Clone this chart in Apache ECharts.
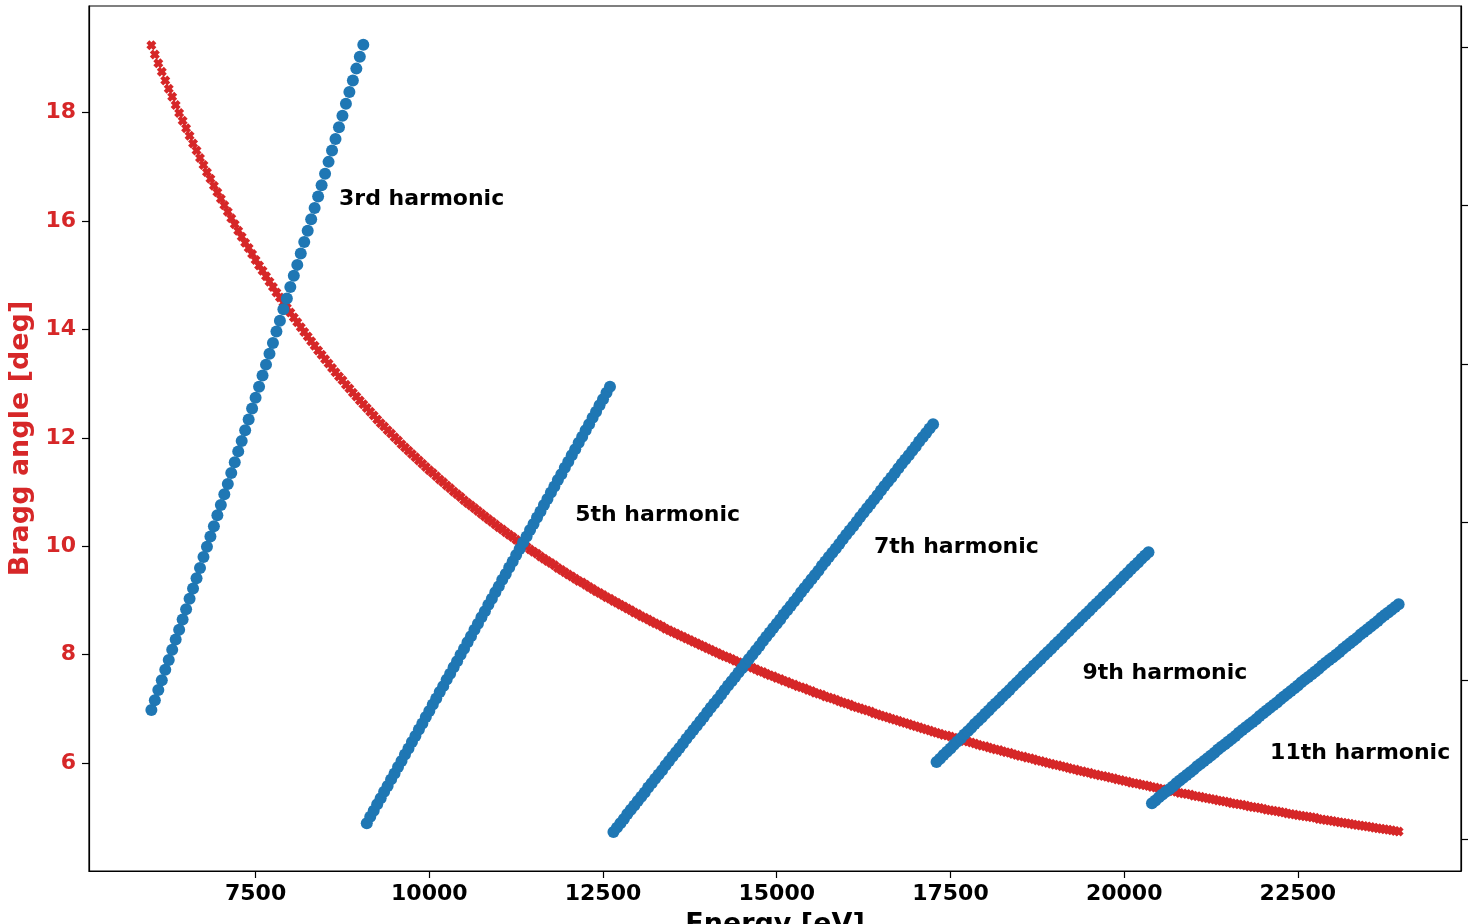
<!DOCTYPE html>
<html>
<head>
<meta charset="utf-8">
<script src="https://cdn.jsdelivr.net/npm/echarts@6/dist/echarts.min.js"></script>
<style>
  html, body { margin: 0; padding: 0; background: #ffffff; }
  #chart { width: 1475px; height: 924px; }
</style>
</head>
<body>
<div id="chart"></div>
<script>
// Photon energy grid [eV], shared by the Bragg curve and the harmonic series
const energy = [
  6000,6050,6100,6150,6200,6250,6300,6350,6400,6450,6500,6550,6600,6650,6700,6750,6800,6850,6900,6950,
  7000,7050,7100,7150,7200,7250,7300,7350,7400,7450,7500,7550,7600,7650,7700,7750,7800,7850,7900,7950,
  8000,8050,8100,8150,8200,8250,8300,8350,8400,8450,8500,8550,8600,8650,8700,8750,8800,8850,8900,8950,
  9000,9050,9100,9150,9200,9250,9300,9350,9400,9450,9500,9550,9600,9650,9700,9750,9800,9850,9900,9950,
  10000,10050,10100,10150,10200,10250,10300,10350,10400,10450,10500,10550,10600,10650,10700,10750,10800,10850,10900,10950,
  11000,11050,11100,11150,11200,11250,11300,11350,11400,11450,11500,11550,11600,11650,11700,11750,11800,11850,11900,11950,
  12000,12050,12100,12150,12200,12250,12300,12350,12400,12450,12500,12550,12600,12650,12700,12750,12800,12850,12900,12950,
  13000,13050,13100,13150,13200,13250,13300,13350,13400,13450,13500,13550,13600,13650,13700,13750,13800,13850,13900,13950,
  14000,14050,14100,14150,14200,14250,14300,14350,14400,14450,14500,14550,14600,14650,14700,14750,14800,14850,14900,14950,
  15000,15050,15100,15150,15200,15250,15300,15350,15400,15450,15500,15550,15600,15650,15700,15750,15800,15850,15900,15950,
  16000,16050,16100,16150,16200,16250,16300,16350,16400,16450,16500,16550,16600,16650,16700,16750,16800,16850,16900,16950,
  17000,17050,17100,17150,17200,17250,17300,17350,17400,17450,17500,17550,17600,17650,17700,17750,17800,17850,17900,17950,
  18000,18050,18100,18150,18200,18250,18300,18350,18400,18450,18500,18550,18600,18650,18700,18750,18800,18850,18900,18950,
  19000,19050,19100,19150,19200,19250,19300,19350,19400,19450,19500,19550,19600,19650,19700,19750,19800,19850,19900,19950,
  20000,20050,20100,20150,20200,20250,20300,20350,20400,20450,20500,20550,20600,20650,20700,20750,20800,20850,20900,20950,
  21000,21050,21100,21150,21200,21250,21300,21350,21400,21450,21500,21550,21600,21650,21700,21750,21800,21850,21900,21950,
  22000,22050,22100,22150,22200,22250,22300,22350,22400,22450,22500,22550,22600,22650,22700,22750,22800,22850,22900,22950,
  23000,23050,23100,23150,23200,23250,23300,23350,23400,23450,23500,23550,23600,23650,23700,23750,23800,23850,23900,23950
];

// Si(111) Bragg angle [deg] at each energy
const braggAngle = [
  19.24,19.07,18.91,18.75,18.59,18.44,18.29,18.14,17.99,17.85,17.71,17.57,17.43,17.30,17.16,17.03,16.90,16.78,16.65,16.53,
  16.41,16.29,16.17,16.05,15.94,15.82,15.71,15.60,15.50,15.39,15.28,15.18,15.08,14.98,14.88,14.78,14.68,14.59,14.49,14.40,
  14.31,14.22,14.13,14.04,13.95,13.87,13.78,13.70,13.61,13.53,13.45,13.37,13.29,13.21,13.13,13.06,12.98,12.91,12.83,12.76,
  12.69,12.62,12.55,12.48,12.41,12.34,12.27,12.21,12.14,12.08,12.01,11.95,11.88,11.82,11.76,11.70,11.64,11.58,11.52,11.46,
  11.40,11.35,11.29,11.23,11.18,11.12,11.07,11.01,10.96,10.91,10.85,10.80,10.75,10.70,10.65,10.60,10.55,10.50,10.45,10.40,
  10.35,10.31,10.26,10.21,10.17,10.12,10.08,10.03,9.99,9.94,9.90,9.86,9.81,9.77,9.73,9.69,9.65,9.60,9.56,9.52,
  9.48,9.44,9.40,9.36,9.33,9.29,9.25,9.21,9.17,9.14,9.10,9.06,9.03,8.99,8.96,8.92,8.89,8.85,8.82,8.78,
  8.75,8.71,8.68,8.65,8.61,8.58,8.55,8.52,8.48,8.45,8.42,8.39,8.36,8.33,8.30,8.27,8.24,8.21,8.18,8.15,
  8.12,8.09,8.06,8.03,8.00,7.97,7.95,7.92,7.89,7.86,7.84,7.81,7.78,7.76,7.73,7.70,7.68,7.65,7.62,7.60,
  7.57,7.55,7.52,7.50,7.47,7.45,7.42,7.40,7.38,7.35,7.33,7.30,7.28,7.26,7.23,7.21,7.19,7.17,7.14,7.12,
  7.10,7.08,7.05,7.03,7.01,6.99,6.97,6.95,6.92,6.90,6.88,6.86,6.84,6.82,6.80,6.78,6.76,6.74,6.72,6.70,
  6.68,6.66,6.64,6.62,6.60,6.58,6.56,6.54,6.52,6.51,6.49,6.47,6.45,6.43,6.41,6.40,6.38,6.36,6.34,6.32,
  6.31,6.29,6.27,6.25,6.24,6.22,6.20,6.19,6.17,6.15,6.13,6.12,6.10,6.09,6.07,6.05,6.04,6.02,6.00,5.99,
  5.97,5.96,5.94,5.93,5.91,5.89,5.88,5.86,5.85,5.83,5.82,5.80,5.79,5.77,5.76,5.75,5.73,5.72,5.70,5.69,
  5.67,5.66,5.64,5.63,5.62,5.60,5.59,5.58,5.56,5.55,5.53,5.52,5.51,5.49,5.48,5.47,5.45,5.44,5.43,5.42,
  5.40,5.39,5.38,5.36,5.35,5.34,5.33,5.31,5.30,5.29,5.28,5.26,5.25,5.24,5.23,5.22,5.20,5.19,5.18,5.17,
  5.16,5.14,5.13,5.12,5.11,5.10,5.09,5.07,5.06,5.05,5.04,5.03,5.02,5.01,5.00,4.99,4.97,4.96,4.95,4.94,
  4.93,4.92,4.91,4.90,4.89,4.88,4.87,4.86,4.85,4.84,4.83,4.82,4.81,4.80,4.79,4.78,4.77,4.76,4.75,4.74
];

// Harmonic branches, consecutive slices of the energy grid (values on the angle scale)
const harmonic3 = [
  6.98,7.16,7.35,7.53,7.72,7.90,8.09,8.28,8.46,8.65,8.84,9.03,9.22,9.41,9.60,9.80,9.99,10.18,10.37,10.57,
  10.76,10.96,11.15,11.35,11.55,11.75,11.94,12.14,12.34,12.54,12.74,12.94,13.15,13.35,13.55,13.75,13.96,14.16,14.37,14.57,
  14.78,14.99,15.19,15.40,15.61,15.82,16.03,16.24,16.45,16.66,16.87,17.09,17.30,17.51,17.73,17.94,18.16,18.38,18.59,18.81,
  19.03,19.25
];
const harmonic5 = [
  4.89,5.01,5.12,5.24,5.35,5.47,5.58,5.70,5.81,5.93,6.04,6.16,6.27,6.39,6.50,6.62,6.73,6.85,6.96,7.08,
  7.19,7.31,7.42,7.54,7.65,7.77,7.88,8.00,8.11,8.23,8.34,8.46,8.57,8.69,8.80,8.92,9.03,9.15,9.26,9.38,
  9.49,9.61,9.72,9.84,9.95,10.07,10.18,10.30,10.41,10.53,10.64,10.76,10.87,10.99,11.10,11.22,11.33,11.45,11.56,11.68,
  11.79,11.91,12.02,12.14,12.25,12.37,12.48,12.60,12.71,12.83,12.94
];
const harmonic7 = [
  4.73,4.81,4.89,4.97,5.06,5.14,5.22,5.30,5.38,5.46,5.55,5.63,5.71,5.79,5.87,5.96,6.04,6.12,6.20,6.28,
  6.36,6.45,6.53,6.61,6.69,6.77,6.85,6.94,7.02,7.10,7.18,7.26,7.35,7.43,7.51,7.59,7.67,7.75,7.84,7.92,
  8.00,8.08,8.16,8.25,8.33,8.41,8.49,8.57,8.65,8.74,8.82,8.90,8.98,9.06,9.15,9.23,9.31,9.39,9.47,9.55,
  9.64,9.72,9.80,9.88,9.96,10.04,10.13,10.21,10.29,10.37,10.45,10.54,10.62,10.70,10.78,10.86,10.94,11.03,11.11,11.19,
  11.27,11.35,11.44,11.52,11.60,11.68,11.76,11.84,11.93,12.01,12.09,12.17,12.25
];
const harmonic9 = [
  6.02,6.08,6.15,6.21,6.27,6.34,6.40,6.46,6.53,6.59,6.65,6.72,6.78,6.84,6.91,6.97,7.04,7.10,7.16,7.23,
  7.29,7.35,7.42,7.48,7.54,7.61,7.67,7.73,7.80,7.86,7.92,7.99,8.05,8.11,8.18,8.24,8.30,8.37,8.43,8.50,
  8.56,8.62,8.69,8.75,8.81,8.88,8.94,9.00,9.07,9.13,9.19,9.26,9.32,9.38,9.45,9.51,9.58,9.64,9.70,9.77,
  9.83,9.89
];
const harmonic11 = [
  5.26,5.31,5.37,5.42,5.47,5.52,5.57,5.63,5.68,5.73,5.78,5.83,5.88,5.94,5.99,6.04,6.09,6.14,6.19,6.25,
  6.30,6.35,6.40,6.45,6.50,6.56,6.61,6.66,6.71,6.76,6.81,6.87,6.92,6.97,7.02,7.07,7.12,7.18,7.23,7.28,
  7.33,7.38,7.43,7.49,7.54,7.59,7.64,7.69,7.74,7.80,7.85,7.90,7.95,8.00,8.05,8.11,8.16,8.21,8.26,8.31,
  8.37,8.42,8.47,8.52,8.57,8.62,8.68,8.73,8.78,8.83,8.88,8.93
];

// Text placed next to each branch: [energy, angle]
const annotationLabels = ['3rd harmonic', '5th harmonic', '7th harmonic', '9th harmonic', '11th harmonic'];
const annotationEnergy = [8700, 12100, 16400, 19400, 22100];
const annotationAngle  = [16.40, 10.58, 9.99, 7.66, 6.19];

// Axis ticks
const energyTicks = [7500, 10000, 12500, 15000, 17500, 20000, 22500];
const angleTicks  = [6, 8, 10, 12, 14, 16, 18];
const rightTicks  = [0, 1, 2, 3, 4, 5];

const RED = '#d62728';
const BLUE = '#1f77b4';
const FONT = "'DejaVu Sans', 'Liberation Sans', sans-serif";

const braggData = energy.map((e, i) => [e, braggAngle[i]]);

const harmonicData = [];
let offset = 0;
[harmonic3, harmonic5, harmonic7, harmonic9, harmonic11].forEach(branch => {
  branch.forEach((v, i) => harmonicData.push([energy[offset + i], v]));
  offset += branch.length;
});

const annotationData = annotationLabels.map((t, i) => ({
  name: t, value: [annotationEnergy[i], annotationAngle[i]]
}));

// Filled, chunky "X" marker
const xMarker = 'path://M0,3 L3,0 L5,2 L7,0 L10,3 L8,5 L10,7 L7,10 L5,8 L3,10 L0,7 L2,5 Z';

const chart = echarts.init(document.getElementById('chart'), null, { renderer: 'canvas' });
chart.setOption({
  animation: false,
  backgroundColor: '#ffffff',
  grid: {
    left: 89, right: 14, top: 6, bottom: 53,
    containLabel: false,
    outerBoundsMode: 'none',
    show: true, borderColor: '#000000', borderWidth: 1.2, backgroundColor: 'transparent'
  },
  xAxis: {
    type: 'value',
    min: 5102.5, max: 24847.5,
    name: 'Energy [eV]',
    nameLocation: 'middle',
    nameGap: 40,
    nameTextStyle: { color: '#000', fontSize: 27, fontWeight: 'bold', fontFamily: FONT },
    axisLine: { show: true, onZero: false, lineStyle: { color: '#000', width: 1.2 } },
    axisTick: { show: true, length: 7, lineStyle: { color: '#000', width: 1.2 }, customValues: energyTicks },
    axisLabel: {
      show: true, margin: 12, color: '#000', fontSize: 22, fontWeight: 'bold', fontFamily: FONT,
      customValues: energyTicks, formatter: v => String(v)
    },
    splitLine: { show: false }
  },
  yAxis: [
    {
      type: 'value',
      position: 'left',
      min: 4.010, max: 19.965,
      name: 'Bragg angle [deg]',
      nameLocation: 'middle',
      nameGap: 48,
      nameTextStyle: { color: RED, fontSize: 27, fontWeight: 'bold', fontFamily: FONT },
      axisLine: { show: true, onZero: false, lineStyle: { color: '#000', width: 1.2 } },
      axisTick: { show: true, length: 7, lineStyle: { color: '#000', width: 1.2 }, customValues: angleTicks },
      axisLabel: {
        show: true, margin: 13, color: RED, fontSize: 22, fontWeight: 'bold', fontFamily: FONT,
        customValues: angleTicks, formatter: v => String(v), padding: [6, 0, 0, 0]
      },
      splitLine: { show: false }
    },
    {
      type: 'value',
      position: 'right',
      min: -0.202, max: 5.259,
      axisLine: { show: true, onZero: false, lineStyle: { color: '#000', width: 1.2 } },
      axisTick: { show: true, length: 7, lineStyle: { color: '#000', width: 1.2 }, customValues: rightTicks },
      axisLabel: { show: false },
      splitLine: { show: false }
    }
  ],
  series: [
    {
      name: 'Bragg angle',
      type: 'scatter',
      yAxisIndex: 0,
      data: braggData,
      symbol: xMarker,
      symbolSize: 10,
      itemStyle: { color: RED, opacity: 1 },
      silent: true,
      z: 2
    },
    {
      name: 'Harmonics',
      type: 'scatter',
      yAxisIndex: 0,
      data: harmonicData,
      symbol: 'circle',
      symbolSize: 12,
      itemStyle: { color: BLUE, opacity: 1 },
      silent: true,
      z: 3
    },
    {
      name: 'Labels',
      type: 'scatter',
      yAxisIndex: 0,
      data: annotationData,
      symbolSize: 0,
      itemStyle: { opacity: 1 },
      silent: true,
      z: 4,
      label: {
        show: true,
        position: 'right',
        distance: 0,
        formatter: p => p.name,
        color: '#000000',
        opacity: 1,
        fontSize: 22,
        fontWeight: 'bold',
        fontFamily: FONT
      }
    }
  ]
});
</script>
</body>
</html>
